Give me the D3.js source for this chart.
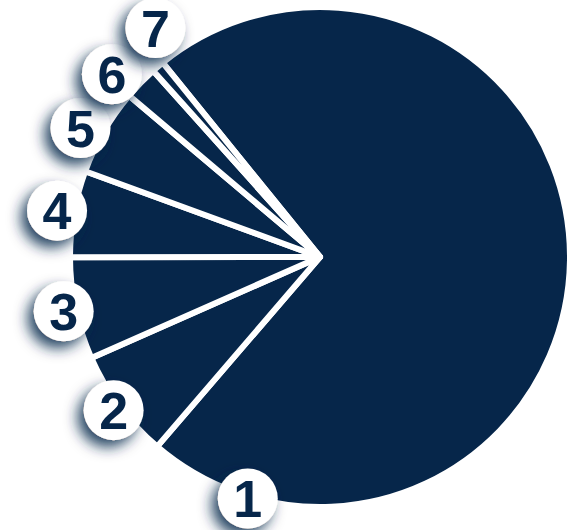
<!DOCTYPE html>
<html>
<head>
<meta charset="utf-8">
<script src="https://cdn.jsdelivr.net/npm/d3@7"></script>
<style>
  html, body { margin: 0; padding: 0; background: #ffffff; }
  svg { display: block; }
</style>
</head>
<body>
<svg id="chart" width="577" height="530"></svg>
<script>
// slice labels and their shares (in percent)
const labels = ['1', '2', '3', '4', '5', '6', '7'];
const values = [72.2, 7.1, 6.6, 5.6, 5.6, 2.2, 0.8];

const svg = d3.select('#chart');
const cx = 320, cy = 257;
const radius = 250;
const navy = '#06264a';
const deg = Math.PI / 180;
const start = -39 * deg;

const pie = d3.pie()
    .sort(null)
    .value(d => d)
    .startAngle(start)
    .endAngle(start + 2 * Math.PI);

const arcs = pie(values);

const arc = d3.arc()
    .innerRadius(0)
    .outerRadius(radius);

// drop shadow for the label bubbles
const defs = svg.append('defs');
const filter = defs.append('filter')
    .attr('id', 'bubble-shadow')
    .attr('x', '-100%').attr('y', '-100%')
    .attr('width', '300%').attr('height', '300%');
filter.append('feDropShadow')
    .attr('dx', -6)
    .attr('dy', 7)
    .attr('stdDeviation', 7)
    .attr('flood-color', navy)
    .attr('flood-opacity', 0.85);

const g = svg.append('g')
    .attr('transform', `translate(${cx},${cy})`);

g.selectAll('path.slice')
    .data(arcs)
    .join('path')
    .attr('class', 'slice')
    .attr('d', arc)
    .attr('fill', navy)
    .attr('stroke', '#ffffff')
    .attr('stroke-width', 6)
    .attr('stroke-linejoin', 'round');

// label angles: middle of each slice, the big one sits near its far edge,
// then push neighbours apart so the bubbles don't overlap
let angles = arcs.map((a, i) => i === 0
    ? a.endAngle - 24 * deg
    : (a.startAngle + a.endAngle) / 2);
const minSep = 13 * deg;
for (let it = 0; it < 200; it++) {
    for (let i = 0; i < angles.length - 1; i++) {
        const diff = angles[i + 1] - angles[i];
        if (diff < minSep) {
            const push = (minSep - diff) / 2;
            angles[i] -= push;
            angles[i + 1] += push;
        }
    }
}

// bubbles drift slightly outward as they go round
const labelRadius = i => radius + 2 + 5 * i;
const bubbles = g.selectAll('g.bubble')
    .data(arcs.map((a, i) => ({ label: labels[i], angle: angles[i], r: labelRadius(i) })))
    .join('g')
    .attr('class', 'bubble')
    .attr('transform', d => `translate(${Math.sin(d.angle) * d.r},${-Math.cos(d.angle) * d.r})`);

bubbles.append('circle')
    .attr('r', 30)
    .attr('fill', '#ffffff')
    .attr('filter', 'url(#bubble-shadow)');

bubbles.append('text')
    .attr('text-anchor', 'middle')
    .attr('dy', '0.36em')
    .attr('fill', navy)
    .style('font-family', '"Liberation Sans", Arial, sans-serif')
    .style('font-weight', 'bold')
    .style('font-size', '52px')
    .text(d => d.label);
</script>
</body>
</html>
